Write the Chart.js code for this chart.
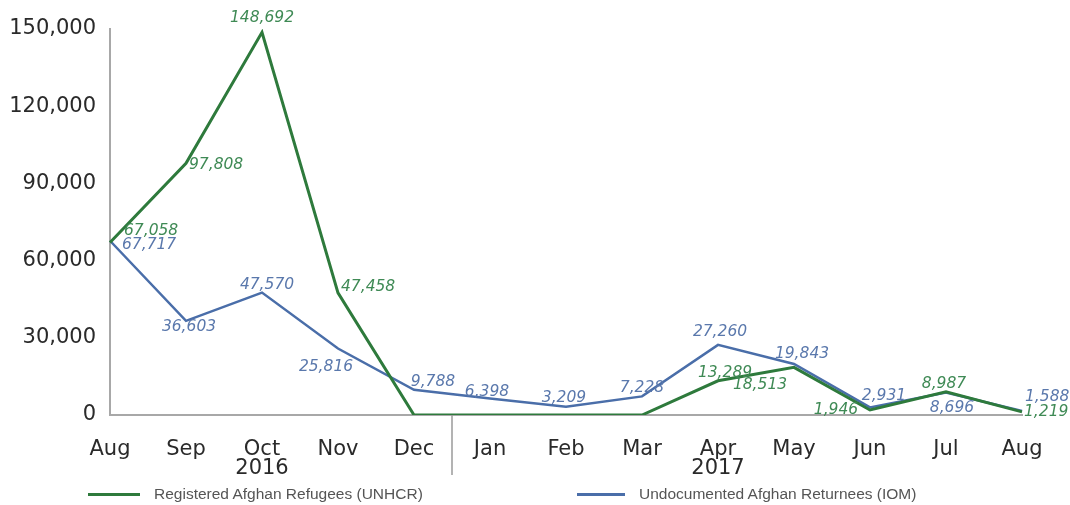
<!DOCTYPE html>
<html>
<head>
<meta charset="utf-8">
<script src="https://cdn.jsdelivr.net/npm/chart.js@4.4.1/dist/chart.umd.min.js"></script>
<style>
    html, body { margin: 0; padding: 0; background: #fff; }
    #wrap { position: relative; width: 1070px; height: 505px; }
    .legend-item { position: absolute; top: 485px; font-family: "Liberation Sans", Arial, sans-serif; font-size: 15.5px; color: #555; white-space: nowrap; }
    .legend-item span.swatch { display: inline-block; width: 52px; height: 3px; vertical-align: middle; margin-right: 14px; }
</style>
</head>
<body>
<div id="wrap">
    <canvas id="chart" width="1070" height="505"></canvas>
    <div class="legend-item" style="left:88px;"><span class="swatch" style="background:#2e7a3c;"></span>Registered Afghan Refugees (UNHCR)</div>
    <div class="legend-item" style="left:577px;"><span class="swatch" style="background:#4a6ea9;width:48px;"></span>Undocumented Afghan Returnees (IOM)</div>
</div>
<script>
const months = ['Aug', 'Sep', 'Oct', 'Nov', 'Dec', 'Jan', 'Feb', 'Mar', 'Apr', 'May', 'Jun', 'Jul', 'Aug'];
const yearLabels = ['', '', '2016', '', '', '', '', '', '2017', '', '', '', ''];
const refugees = [67058, 97808, 148692, 47458, 0, 0, 0, 0, 13289, 18513, 1946, 8987, 1219];
const returnees = [67717, 36603, 47570, 25816, 9788, 6398, 3209, 7228, 27260, 19843, 2931, 8696, 1588];
const yTicks = [0, 30000, 60000, 90000, 120000, 150000];

// where each value label sits relative to its point: [dx, dy, align], null = no label
const refugeeLabelPos = [
    [14, -11, 'left'], [3, 2, 'left'], [0, -14, 'center'], [3, -6, 'left'], null, null, null, null,
    [7, -8, 'center'], [-34, 18, 'center'], [-34, 0, 'center'], [-2, -8, 'center'], [2, 0, 'left']
];
const returneeLabelPos = [
    [12, 4, 'left'], [3, 6, 'center'], [5, -8, 'center'], [-12, 18, 'center'], [19, -8, 'center'],
    [-3, -7, 'center'], [-2, -9, 'center'], [0, -8, 'center'], [2, -13, 'center'], [8, -10, 'center'],
    [14, -11, 'center'], [6, 15, 'center'], [3, -14, 'left']
];

const GREEN = '#2e7a3c';
const BLUE = '#4a6ea9';

const valueLabels = {
    id: 'valueLabels',
    afterDatasetsDraw(chart) {
        const ctx = chart.ctx;
        const sets = [
            { meta: chart.getDatasetMeta(0), values: refugees, pos: refugeeLabelPos, color: '#3f8a55' },
            { meta: chart.getDatasetMeta(1), values: returnees, pos: returneeLabelPos, color: '#5a78ac' }
        ];
        ctx.save();
        ctx.font = 'italic 15.5px "DejaVu Sans", sans-serif';
        ctx.textBaseline = 'middle';
        sets.forEach(s => {
            ctx.fillStyle = s.color;
            s.meta.data.forEach((pt, i) => {
                const p = s.pos[i];
                if (!p) return;
                ctx.textAlign = p[2];
                ctx.fillText(s.values[i].toLocaleString('en-US'), pt.x + p[0], pt.y + p[1]);
            });
        });
        ctx.restore();
    }
};

const yearDivider = {
    id: 'yearDivider',
    afterDraw(chart) {
        const x = chart.scales.x;
        const xp = (x.getPixelForValue(4) + x.getPixelForValue(5)) / 2;
        const ctx = chart.ctx;
        ctx.save();
        ctx.strokeStyle = '#9a9a9a';
        ctx.lineWidth = 1.5;
        ctx.beginPath();
        ctx.moveTo(xp, chart.chartArea.bottom);
        ctx.lineTo(xp, chart.chartArea.bottom + 60);
        ctx.stroke();
        ctx.restore();
    }
};

new Chart(document.getElementById('chart').getContext('2d'), {
    type: 'line',
    data: {
        labels: months.map((m, i) => yearLabels[i] ? [m, yearLabels[i]] : m),
        datasets: [{
            label: 'Registered Afghan Refugees (UNHCR)',
            data: refugees,
            borderColor: GREEN,
            borderWidth: 3,
            pointRadius: 0,
            tension: 0,
            fill: false
        }, {
            label: 'Undocumented Afghan Returnees (IOM)',
            data: returnees,
            borderColor: BLUE,
            borderWidth: 2.5,
            pointRadius: 0,
            tension: 0,
            fill: false
        }]
    },
    options: {
        responsive: false,
        animation: false,
        layout: { padding: { top: 29, right: 48, left: 0, bottom: 0 } },
        plugins: {
            legend: { display: false },
            tooltip: { enabled: false }
        },
        scales: {
            x: {
                offset: false,
                grid: { display: false, drawTicks: false },
                border: { display: true, color: '#a8a8a8', width: 2 },
                ticks: {
                    color: '#2a2a2a',
                    padding: 26,
                    maxRotation: 0,
                    autoSkip: false,
                    font: { family: '"DejaVu Sans", sans-serif', size: 21, lineHeight: 0.86 }
                },
                afterFit: (scale) => { scale.height = 90; }
            },
            y: {
                min: 0,
                max: 150000,
                afterBuildTicks: (scale) => { scale.ticks = yTicks.map(v => ({ value: v })); },
                grid: { display: false, drawTicks: false },
                border: { display: true, color: '#a8a8a8', width: 2 },
                ticks: {
                    color: '#2a2a2a',
                    padding: 14,
                    font: { family: '"DejaVu Sans", sans-serif', size: 21 },
                    callback: (v) => v.toLocaleString('en-US')
                },
                afterFit: (scale) => { scale.width = 110; }
            }
        }
    },
    plugins: [valueLabels, yearDivider]
});
</script>
</body>
</html>
